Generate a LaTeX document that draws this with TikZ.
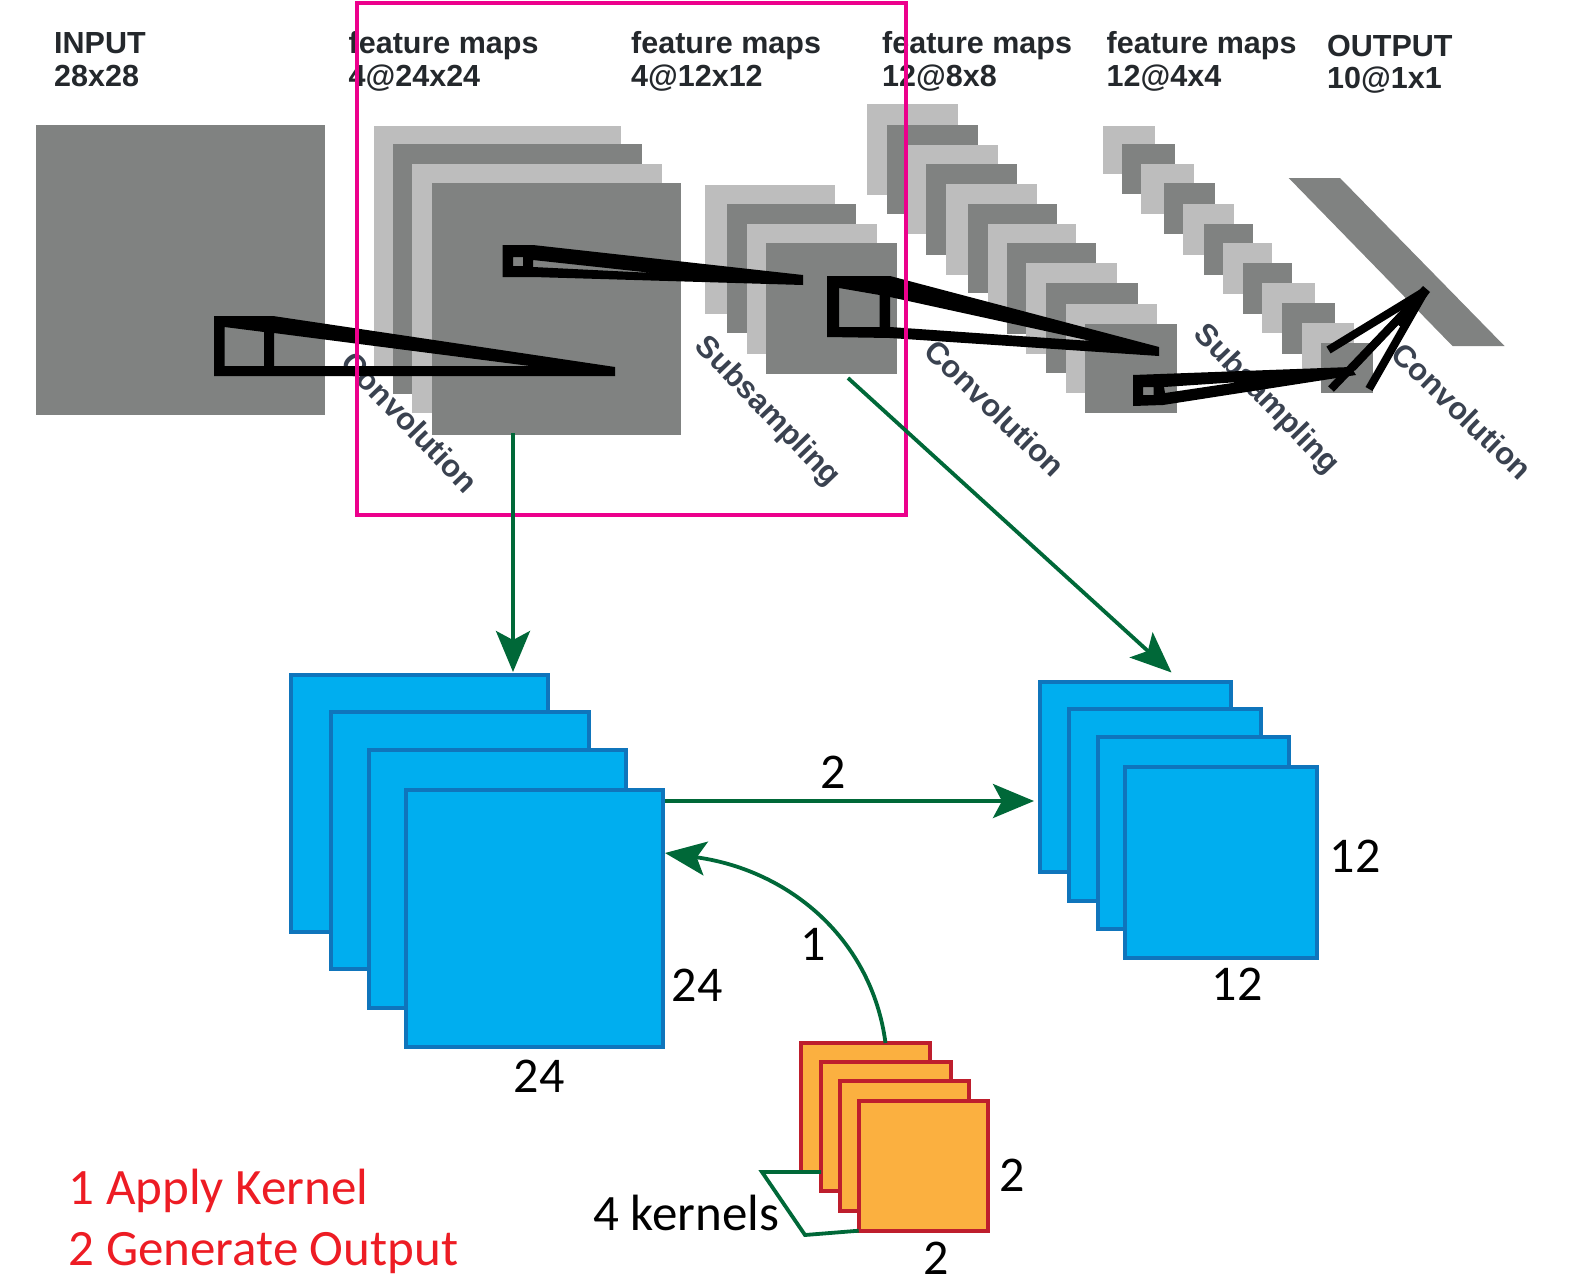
\documentclass[tikz,border=0pt]{standalone}
\usepackage{fontspec}
\setmainfont{Carlito}
\newfontfamily\blurfont{Liberation Sans Bold}
\usetikzlibrary{arrows.meta}
\definecolor{darkgrey}{HTML}{808281}
\definecolor{lightgrey}{HTML}{BDBDBD}
\definecolor{pinkbox}{HTML}{EC008C}
\definecolor{greenline}{HTML}{006838}
\definecolor{bluefill}{HTML}{00AEEF}
\definecolor{bluedraw}{HTML}{0F75BC}
\definecolor{orangefill}{HTML}{FBB040}
\definecolor{reddraw}{HTML}{BE1E2D}
\definecolor{redtext}{HTML}{ED1C24}
\definecolor{scantext}{HTML}{24282C}
\definecolor{scanrottext}{HTML}{3A4250}
\tikzset{
  flat/.style={inner sep=0pt,outer sep=0pt,draw=none},
  greydark/.style={flat,fill=darkgrey},
  greylight/.style={flat,fill=lightgrey},
  bluebox/.style={flat,fill=bluefill,draw=bluedraw,line width=4pt},
  orangebox/.style={flat,fill=orangefill,draw=reddraw,line width=4pt},
  framebox/.style={flat,draw=pinkbox,line width=3.8pt},
  scanlabel/.style={anchor=base west,inner sep=0pt,text=scantext,font=\blurfont\fontsize{30.5}{30.5}\selectfont},
  scanrot/.style={inner sep=0pt,text=scanrottext,rotate=#1,font=\blurfont\fontsize{31}{31}\selectfont},
  dimlabel/.style={inner sep=0pt,anchor=center,text=black,font=\fontsize{50}{50}\selectfont},
  redlabel/.style={anchor=base west,inner sep=0pt,text=redtext,font=\fontsize{51}{51}\selectfont},
  fan/.style={draw=black,line width=8pt},
  flow/.style={draw=greenline,line width=3.8pt,-{Stealth[length=41pt,width=34pt,inset=9pt]}},
  kernelline/.style={draw=greenline,line width=3.8pt,line join=miter},
}
% name, style, x1, y1, x2, y2
\newcommand{\plate}[6]{%
  \pgfmathsetmacro{\pw}{#5-#3}\pgfmathsetmacro{\ph}{#6-#4}%
  \pgfmathsetmacro{\pcx}{(#3+#5)/2}\pgfmathsetmacro{\pcy}{(#4+#6)/2}%
  \node[#2,minimum width=\pw pt,minimum height=\ph pt] (#1) at (\pcx,\pcy) {};}
\begin{document}
\begin{tikzpicture}[x=1pt,y=-1pt]
\useasboundingbox (0,0) rectangle (1583,1288);
% input
\plate{inp}{greydark}{35.5}{125}{325}{415}
% stack 1
\plate{sa1}{greylight}{374}{126}{621}{376}
\plate{sa2}{greydark}{393}{144}{642}{394}
\plate{sa3}{greylight}{412}{164}{662}{413}
\plate{sa4}{greydark}{432}{183}{681}{435}
% stack 2
\plate{sb1}{greylight}{705}{185}{835}{314}
\plate{sb2}{greydark}{727}{204}{855.5}{333}
\plate{sb3}{greylight}{747}{224}{877}{354}
\plate{sb4}{greydark}{766}{243}{897}{374}
% stack 3
\plate{sc1}{greylight}{867}{104}{958}{195}
\plate{sc2}{greydark}{887}{125}{978}{214}
\plate{sc3}{greylight}{906.5}{145}{998}{234}
\plate{sc4}{greydark}{925.5}{164}{1017}{255}
\plate{sc5}{greylight}{946}{184}{1037}{275}
\plate{sc6}{greydark}{968}{204}{1057}{293}
\plate{sc7}{greylight}{988}{224}{1076}{314}
\plate{sc8}{greydark}{1007}{243}{1096}{334}
\plate{sc9}{greylight}{1026}{263}{1117}{354}
\plate{sc10}{greydark}{1046}{283}{1138}{373}
\plate{sc11}{greylight}{1066}{304}{1157}{393}
\plate{sc12}{greydark}{1085}{324}{1177}{413}
% stack 4
\plate{sd1}{greylight}{1103}{126}{1155}{174}
\plate{sd2}{greydark}{1122}{144}{1175}{194}
\plate{sd3}{greylight}{1141}{164}{1194}{214}
\plate{sd4}{greydark}{1164}{183}{1215}{234}
\plate{sd5}{greylight}{1183}{204}{1234}{255}
\plate{sd6}{greydark}{1203.5}{224}{1253}{275}
\plate{sd7}{greylight}{1223}{243}{1272}{294}
\plate{sd8}{greydark}{1243}{263}{1292}{314}
\plate{sd9}{greylight}{1262}{283}{1315}{333}
\plate{sd10}{greydark}{1281.5}{303}{1335}{354}
\plate{sd11}{greylight}{1301.5}{323}{1354}{373}
\plate{sd12}{greydark}{1321}{343}{1373}{393}
% output bar
\fill[darkgrey] (1288.7,178) -- (1340,178) -- (1504.5,346) -- (1452.5,346) -- cycle;
% scan labels
\node[scanlabel] (t1a) at (54,53) {INPUT};
\node[scanlabel] (t1b) at (54,86) {28x28};
\node[scanlabel] (t2a) at (348.5,53) {feature maps};
\node[scanlabel] (t2b) at (348.5,86) {4@24x24};
\node[scanlabel] (t3a) at (631,53) {feature maps};
\node[scanlabel] (t3b) at (631,86) {4@12x12};
\node[scanlabel] (t4a) at (882,53) {feature maps};
\node[scanlabel] (t4b) at (882,86) {12@8x8};
\node[scanlabel] (t5a) at (1106.5,53) {feature maps};
\node[scanlabel] (t5b) at (1106.5,86) {12@4x4};
\node[scanlabel] (t6a) at (1327,56.5) {OUTPUT};
\node[scanlabel] (t6b) at (1327,88) {10@1x1};
\node[scanrot=-46] (r1) at (410,422) {Convolution};
\node[scanrot=-46] (r2) at (767,412) {Subsampling};
\node[scanrot=-44] (r3) at (995,408) {Convolution};
\node[scanrot=-46] (r4) at (1266,400) {Subsampling};
\node[scanrot=-44] (r5) at (1462,411) {Convolution};
% black wedges
\fill[black,even odd rule]
  (214,316) -- (273,316) -- (615,367) -- (615,376) -- (214,376) -- cycle
  (224.5,327) -- (264,332) -- (264,366) -- (224.5,366) -- cycle
  (274,333) -- (530,366) -- (274,366) -- cycle;
\fill[black,even odd rule]
  (502.5,245) -- (533,245) -- (803,275) -- (803,285) -- (533,277) -- (502.5,277) -- cycle
  (513,257) -- (523,257) -- (523,266) -- (513,266) -- cycle
  (533,260) -- (653,273) -- (533,267) -- cycle;
\fill[black,even odd rule]
  (827,276) -- (890,276) -- (1159,347) -- (1159,356) -- (890,338) -- (827,337) -- cycle
  (839,288) -- (879.5,295) -- (879.5,327) -- (839,327) -- cycle
  (890,297) -- (1091,341) -- (890,327) -- cycle;
\fill[black,even odd rule]
  (1133,375) -- (1351,367) -- (1356,375) -- (1163,405) -- (1133,406) -- cycle
  (1143,387) -- (1153.5,387) -- (1153.5,395) -- (1143,395) -- cycle
  (1164,387) -- (1239,382) -- (1165,393) -- cycle;
\coordinate (ftip) at (1425,291);
\coordinate (f1) at (1328.5,350);
\coordinate (f2) at (1352,368);
\coordinate (f3) at (1331,389);
\coordinate (f4) at (1369,389);
\draw[fan] (ftip) -- (f1);
\draw[fan] (ftip) -- (f2);
\draw[fan] (ftip) -- (f3);
\draw[fan] (ftip) -- (f4);
\fill[black] (1423,286) -- (1430,292) -- (1402,328) -- (1392,320) -- cycle;
% blue stacks
\plate{ba1}{bluebox}{291}{674.5}{548}{932}
\plate{ba2}{bluebox}{331}{712}{588.5}{969}
\plate{ba3}{bluebox}{368.5}{750}{626}{1007.5}
\plate{ba4}{bluebox}{406}{789.5}{663}{1047}
\plate{bb1}{bluebox}{1040}{681.5}{1231}{872}
\plate{bb2}{bluebox}{1069}{709}{1261}{900.5}
\plate{bb3}{bluebox}{1097.5}{737}{1289}{929}
\plate{bb4}{bluebox}{1125}{767}{1316.5}{958}
% kernels
\plate{k1}{orangebox}{800.7}{1042.7}{930}{1172}
\plate{k2}{orangebox}{821}{1062}{950.7}{1191.3}
\plate{k3}{orangebox}{840}{1081.3}{969.3}{1210.7}
\plate{k4}{orangebox}{858.7}{1101}{988.3}{1230.7}
\coordinate (kn) at (762,1172);
\coordinate (kb) at (805,1235);
\draw[kernelline] (k2.west |- kn) -- (kn) -- (kb) -- (k4.south west);
% frame
\plate{frame}{framebox}{357}{3}{906}{515}
% flows
\coordinate (as) at (513,433);
\coordinate (ae) at (513,672);
\coordinate (bs) at (848,378);
\coordinate (be) at (1171.5,672.5);
\coordinate (cs) at (665,801);
\coordinate (ce) at (1034,801);
\coordinate (ds) at (885.5,1043);
\coordinate (de) at (665,853);
\draw[flow] (as) -- (ae);
\draw[flow] (bs) -- (be);
\draw[flow] (cs) -- (ce);
\draw[flow] (ds) .. controls (872,940) and (790,870) .. (de);
% numbers
\node[dimlabel] (n2) at (833,772) {2};
\node[dimlabel] (n1) at (813,944) {1};
\node[dimlabel] (d1) at (697,985) {24};
\node[dimlabel] (d2) at (539,1076) {24};
\node[dimlabel] (d3) at (1355,856) {12};
\node[dimlabel] (d4) at (1237,984.5) {12};
\node[dimlabel] (d5) at (1012,1175) {2};
\node[dimlabel] (d6) at (936,1258) {2};
\node[dimlabel,anchor=base west,font=\fontsize{51}{51}\selectfont] (kl) at (593,1230) {4 kernels};
\node[redlabel] (l1) at (68.5,1204) {1 Apply Kernel};
\node[redlabel] (l2) at (68.5,1265) {2 Generate Output};
\end{tikzpicture}
\end{document}
